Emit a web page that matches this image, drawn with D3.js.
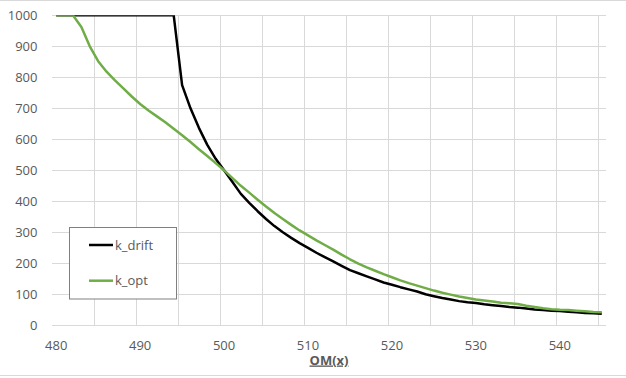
<!DOCTYPE html>
<html>
<head>
<meta charset="utf-8">
<script src="https://cdn.jsdelivr.net/npm/d3@7"></script>
<style>
  body { margin: 0; background: #fff; }
  svg { display: block; font-family: "Open Sans", sans-serif; }
</style>
</head>
<body>
<div class="chart"></div>
<script>
// Excel style line chart, integer categories 480..545

var w = 626, h = 378;

var xStart = 480, xEnd = 545;
var xTicks = [480, 490, 500, 510, 520, 530, 540];
var yTicks = [0, 100, 200, 300, 400, 500, 600, 700, 800, 900, 1000];

// k_drift, one value per category (480..545)
var kDrift = [1000, 1000, 1000, 1000, 1000, 1000, 1000, 1000, 1000, 1000,
	1000, 1000, 1000, 1000, 1000, 775, 700, 637, 582, 537,
	500, 462, 424, 395, 368, 343, 320, 300, 282, 265,
	250, 234, 220, 206, 192, 178, 168, 158, 148, 138,
	131, 123, 116, 109, 100, 94, 88, 83, 78, 74,
	72, 68, 65, 62, 59, 57, 54, 51, 49, 47,
	46, 44, 42, 40, 39, 37];

// k_opt
var kOpt = [1000, 1000, 1000, 962, 900, 852, 818, 790, 764, 738,
	714, 693, 674, 655, 634, 613, 591, 568, 546, 523,
	500, 475, 450, 428, 405, 383, 362, 343, 324, 306,
	290, 274, 259, 244, 228, 213, 199, 187, 176, 165,
	155, 145, 136, 128, 120, 112, 105, 99, 93, 88,
	83, 80, 77, 73, 71, 69, 63, 59, 55, 52,
	50, 49, 47, 45, 43, 42];

var series = [
	{ name: 'k_drift', values: kDrift, color: '#000000' },
	{ name: 'k_opt', values: kOpt, color: '#70ad47' }
];

var plot = { left: 52, right: 606, top: 15.3, bottom: 325.3 };
var textColor = '#595959', gridColor = '#d9d9d9';

var x = d3.scaleLinear().domain([xStart - 0.5, xEnd + 0.5]).range([plot.left, plot.right]);
var y = d3.scaleLinear().domain([0, 1000]).range([plot.bottom, plot.top]);

var svg = d3.select('.chart').append('svg')
	.attr('width', w)
	.attr('height', h);

// outer chart border (top / bottom visible)
svg.append('line').attr('x1', 0).attr('x2', w).attr('y1', 0.5).attr('y2', 0.5)
	.attr('stroke', gridColor);
svg.append('line').attr('x1', 0).attr('x2', w).attr('y1', 375.5).attr('y2', 375.5)
	.attr('stroke', gridColor);

// gridlines
var vGrid = d3.range(xStart + 4.5, xEnd + 0.5, 5);
svg.append('g').selectAll('line')
	.data(vGrid)
	.enter().append('line')
		.attr('x1', function(d) { return Math.round(x(d)) + 0.5; })
		.attr('x2', function(d) { return Math.round(x(d)) + 0.5; })
		.attr('y1', plot.top)
		.attr('y2', plot.bottom)
		.attr('stroke', gridColor);

svg.append('g').selectAll('line')
	.data(yTicks)
	.enter().append('line')
		.attr('x1', plot.left)
		.attr('x2', plot.right)
		.attr('y1', function(d) { return Math.round(y(d)) + 0.5; })
		.attr('y2', function(d) { return Math.round(y(d)) + 0.5; })
		.attr('stroke', gridColor);

// axis labels
svg.append('g').selectAll('text')
	.data(yTicks)
	.enter().append('text')
		.attr('x', 37.5)
		.attr('y', function(d) { return y(d) + 4.5; })
		.attr('text-anchor', 'end')
		.attr('font-size', 13)
		.attr('fill', textColor)
		.text(function(d) { return d; });

svg.append('g').selectAll('text')
	.data(xTicks)
	.enter().append('text')
		.attr('x', function(d) { return x(d); })
		.attr('y', 349.5)
		.attr('text-anchor', 'middle')
		.attr('font-size', 13)
		.attr('fill', textColor)
		.text(function(d) { return d; });

svg.append('text')
	.attr('x', (plot.left + plot.right) / 2)
	.attr('y', 364.5)
	.attr('text-anchor', 'middle')
	.attr('font-size', 13)
	.attr('font-weight', 'bold')
	.attr('text-decoration', 'underline')
	.attr('fill', textColor)
	.text('OM(x)');

// lines, clipped to plot area like Excel does
svg.append('clipPath').attr('id', 'plotclip')
	.append('rect')
		.attr('x', plot.left)
		.attr('y', plot.top)
		.attr('width', plot.right - plot.left)
		.attr('height', plot.bottom - plot.top);

var line = d3.line()
	.x(function(d, i) { return x(xStart + i); })
	.y(function(d) { return y(d); });

svg.append('g').attr('clip-path', 'url(#plotclip)')
	.selectAll('path')
	.data(series)
	.enter().append('path')
		.attr('d', function(d) { return line(d.values); })
		.attr('fill', 'none')
		.attr('stroke', function(d) { return d.color; })
		.attr('stroke-width', 2.5)
		.attr('stroke-linejoin', 'round');

// legend
var legend = svg.append('g');
legend.append('rect')
	.attr('x', 69.5).attr('y', 227.5)
	.attr('width', 107).attr('height', 71.5)
	.attr('fill', '#fff')
	.attr('stroke', '#808080');

var item = legend.selectAll('g')
	.data(series)
	.enter().append('g')
		.attr('transform', function(d, i) { return 'translate(' + [89, 245 + i * 35.7] + ')'; });

item.append('line')
	.attr('x1', 0).attr('x2', 24)
	.attr('stroke', function(d) { return d.color; })
	.attr('stroke-width', 2.5);

item.append('text')
	.attr('x', 26)
	.attr('y', 4.5)
	.attr('font-size', 13)
	.attr('fill', textColor)
	.text(function(d) { return d.name; });
</script>
</body>
</html>
